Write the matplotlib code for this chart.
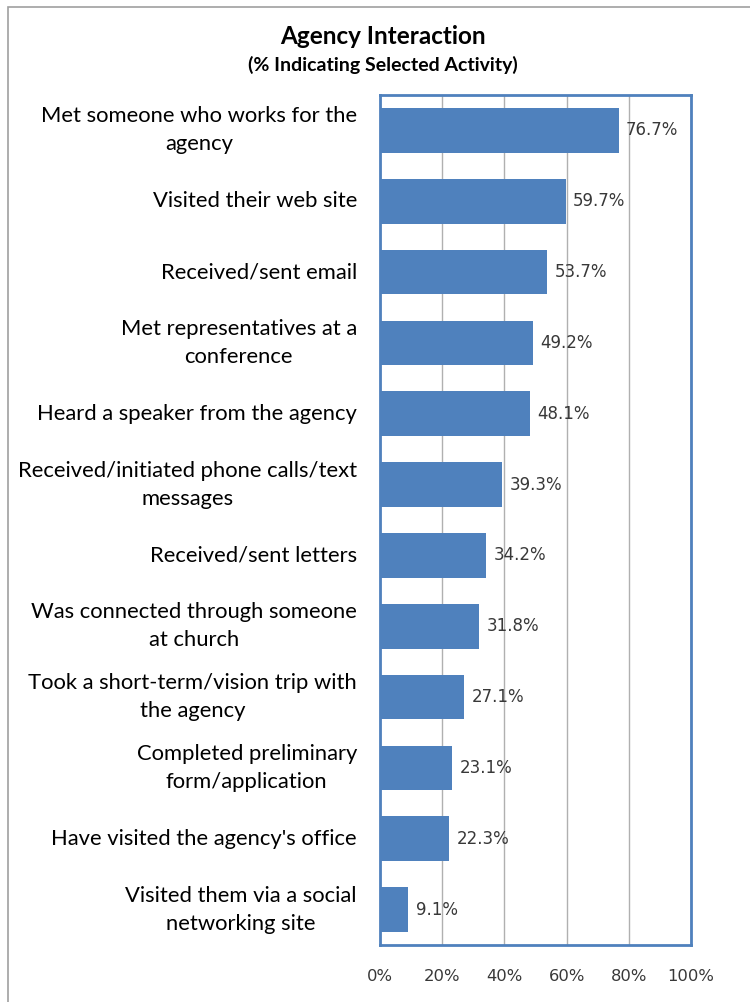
import matplotlib
matplotlib.use("Agg")
import matplotlib.pyplot as plt
from matplotlib.patches import Rectangle

# Datos del gráfico
categorias = [
    "Met someone who works for the\nagency",
    "Visited their web site",
    "Received/sent email",
    "Met representatives at a\nconference",
    "Heard a speaker from the agency",
    "Received/initiated phone calls/text\nmessages",
    "Received/sent letters",
    "Was connected through someone\nat church",
    "Took a short-term/vision trip with\nthe agency",
    "Completed preliminary\nform/application",
    "Have visited the agency's office",
    "Visited them via a social\nnetworking site",
]
valores = [76.7, 59.7, 53.7, 49.2, 48.1, 39.3, 34.2, 31.8, 27.1, 23.1, 22.3, 9.1]
ticks = [0, 20, 40, 60, 80, 100]
tick_labels = ["0%", "20%", "40%", "60%", "80%", "100%"]

azul = "#4F81BD"

fig = plt.figure(figsize=(7.5, 10.02), dpi=100)
ax = fig.add_axes([380 / 750, 1 - 945 / 1002, 311 / 750, 850 / 1002])

# marco exterior gris (solo se ven arriba y a la izquierda)
fig.add_artist(Rectangle((8 / 750, -0.1), 1.2, 1 - 7 / 1002 + 0.1,
                         transform=fig.transFigure, fill=False,
                         edgecolor="#A0A0A0", linewidth=1.2))

pos = list(range(len(categorias)))
ax.barh(pos, valores, height=0.63, color=azul, zorder=3)
ax.set_ylim(len(categorias) - 0.5, -0.5)
ax.set_xlim(0, 100)

for y, v in zip(pos, valores):
    ax.text(v + 2.4, y, f"{v:.1f}%", va="center", ha="left",
            fontsize=12, color="#383838", family="DejaVu Sans", zorder=4)

ax.set_xticks(ticks)
ax.set_xticklabels(tick_labels, fontsize=11.8, color="#383838", family="DejaVu Sans")
ax.tick_params(axis="x", length=0, pad=17)
ax.set_yticks([])
ax.grid(axis="x", color="#B0B0B0", linewidth=1, zorder=0)

for s in ax.spines.values():
    s.set_color(azul)
    s.set_linewidth(2)

for y, c in zip(pos, categorias):
    ax.text(-7.4, y, c, ha="right", va="center", multialignment="center",
            fontsize=15.8, family="Lato", color="black", linespacing=1.5,
            transform=ax.transData)

fig.text(383 / 750, 1 - 37 / 1002, "Agency Interaction", ha="center", va="center",
         fontsize=17.5, fontweight="bold", family="Lato")
fig.text(383 / 750, 1 - 65 / 1002, "(% Indicating Selected Activity)", ha="center",
         va="center", fontsize=14, fontweight="bold", family="Lato")

fig.savefig("out.png", dpi=100)
